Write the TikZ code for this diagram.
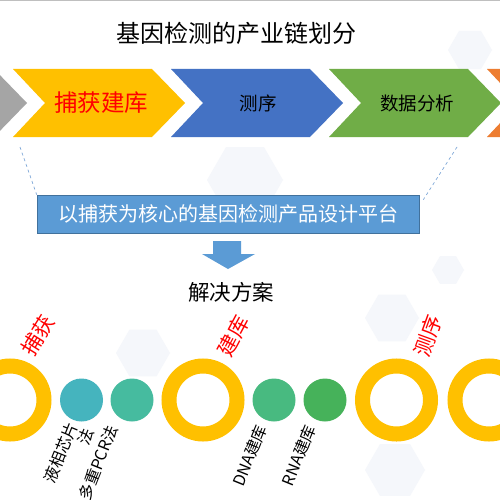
\documentclass[tikz,border=0pt]{standalone}
\usepackage{fontspec}
\setmainfont{Noto Sans CJK SC}
\definecolor{cgray}{HTML}{A5A5A5}
\definecolor{cyellow}{HTML}{FFC000}
\definecolor{cblue}{HTML}{4472C4}
\definecolor{cgreen}{HTML}{70AD47}
\definecolor{corange}{HTML}{ED7D31}
\definecolor{pblue}{HTML}{5B9BD5}
\definecolor{pborder}{HTML}{41719C}
\definecolor{dline}{HTML}{7FA8D8}
\definecolor{hexc}{HTML}{F5F7FB}
\definecolor{s1}{HTML}{45B4BE}
\definecolor{s2}{HTML}{46BB9F}
\definecolor{s3}{HTML}{48BA80}
\definecolor{s4}{HTML}{46B25A}
\tikzset{
  fs/.style={font=\fontsize{#1}{#1}\selectfont},
  ring/.style={draw=cyellow, line width=15pt, circle, minimum size=68pt, inner sep=0pt},
  dot/.style={fill=#1, circle, minimum size=43pt, inner sep=0pt},
  redlab/.style={text=red, font=\fontsize{21}{21}\selectfont, inner sep=0pt},
  sublab/.style={rotate=68, anchor=north east, font=\fontsize{16}{17}\selectfont, inner sep=0pt, align=right},
  hexa/.style={fill=hexc}
}
\begin{document}
\begin{tikzpicture}[x=1pt,y=-1pt]
\useasboundingbox (0,0) rectangle (500,500);
\fill[white] (0,0) rectangle (500,500);
% faint background hexagons
\foreach \cx/\cy/\r in {245/180/38, 448/270/16, 143/353/27, 392/318/27, 470/50/22, 395/470/30} {
  \fill[hexc] ({\cx+\r},\cy) -- ({\cx+\r/2},{\cy+0.866*\r}) -- ({\cx-\r/2},{\cy+0.866*\r}) -- ({\cx-\r},\cy) -- ({\cx-\r/2},{\cy-0.866*\r}) -- ({\cx+\r/2},{\cy-0.866*\r}) -- cycle;
}
\draw[gray!50, line width=1pt] (0,0.5) -- (500,0.5);
% title
\node[fs=24] (title) at (236,33) {基因检测的产业链划分};
% chevrons
\foreach \ox/\col in {-158/cgray,0/cyellow,158/cblue,316/cgreen,474/corange} {
  \fill[\col] ({13+\ox},69) -- ({152+\ox},69) -- ({185+\ox},103) -- ({152+\ox},137) -- ({13+\ox},137) -- ({45+\ox},103) -- cycle;
}
\node[fs=23.5, text=red] (c1) at (101,103) {捕获建库};
\node[fs=18.5] (c2) at (258,103) {测序};
\node[fs=18.5] (c3) at (417,103) {数据分析};
% platform box
\node[fill=pblue, draw=pborder, line width=0.6pt, minimum width=382pt, minimum height=38pt, inner sep=0pt, text=white, fs=20] (plat) at (228,214) {以捕获为核心的基因检测产品设计平台};
\coordinate (dl) at (20,147);
\coordinate (dr) at (457,147);
\draw[dline, dashed, line width=0.7pt] (dl) -- (plat.north west);
\draw[dline, dashed, line width=0.7pt] (dr) -- ([xshift=4pt,yshift=-5pt]plat.north east);
% down arrow
\fill[pblue] (213,241) -- (241,241) -- (241,254) -- (255,254) -- (228,269) -- (202,254) -- (213,254) -- cycle;
\node[fs=21.5] (sol) at (231,292) {解决方案};
% rings and dots
\node[ring] (r1) at (10,400) {};
\node[ring] (r2) at (203,400) {};
\node[ring] (r3) at (396.5,400) {};
\node[ring] (r4) at (489,400) {};
\node[dot=s1] (d1) at (81.5,400) {};
\node[dot=s2] (d2) at (132,400) {};
\node[dot=s3] (d3) at (274,400) {};
\node[dot=s4] (d4) at (325,400) {};
% red labels
\node[redlab, rotate=58] (l1) at (38,335) {捕获};
\node[redlab, rotate=62] (l2) at (233,336) {建库};
\node[redlab, rotate=70] (l3) at (428,336) {测序};
% sub labels
\node[sublab] (t1) at (66,420) {液相芯片\\法};
\node[sublab] (t2) at (106,423) {多重PCR法};
\node[sublab] (t3) at (255,423) {DNA建库};
\node[sublab] (t4) at (304,423) {RNA建库};
\end{tikzpicture}
\end{document}
